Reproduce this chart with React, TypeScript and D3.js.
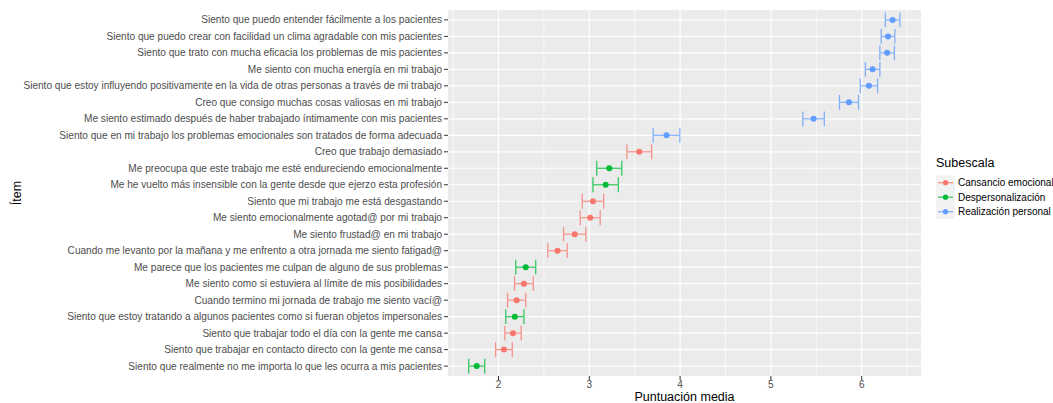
import React from "react";
import * as d3 from "d3";

const items: string[] = [
  "Siento que puedo entender fácilmente a los pacientes",
  "Siento que puedo crear con facilidad un clima agradable con mis pacientes",
  "Siento que trato con mucha eficacia los problemas de mis pacientes",
  "Me siento con mucha energía en mi trabajo",
  "Siento que estoy influyendo positivamente en la vida de otras personas a través de mi trabajo",
  "Creo que consigo muchas cosas valiosas en mi trabajo",
  "Me siento estimado después de haber trabajado íntimamente con mis pacientes",
  "Siento que en mi trabajo los problemas emocionales son tratados de forma adecuada",
  "Creo que trabajo demasiado",
  "Me preocupa que este trabajo me esté endureciendo emocionalmente",
  "Me he vuelto más insensible con la gente desde que ejerzo esta profesión",
  "Siento que mi trabajo me está desgastando",
  "Me siento emocionalmente agotad@ por mi trabajo",
  "Me siento frustad@ en mi trabajo",
  "Cuando me levanto por la mañana y me enfrento a otra jornada me siento fatigad@",
  "Me parece que los pacientes me culpan de alguno de sus problemas",
  "Me siento como si estuviera al límite de mis posibilidades",
  "Cuando termino mi jornada de trabajo me siento vací@",
  "Siento que estoy tratando a algunos pacientes como si fueran objetos impersonales",
  "Siento que trabajar todo el día con la gente me cansa",
  "Siento que trabajar en contacto directo con la gente me cansa",
  "Siento que realmente no me importa lo que les ocurra a mis pacientes",
];

const subscale: string[] = [
  "R", "R", "R", "R", "R", "R", "R", "R",
  "C", "D", "D", "C", "C", "C", "C", "D", "C", "C", "D", "C", "C", "D",
];

const means: number[] = [
  6.34, 6.29, 6.28, 6.12, 6.08, 5.86, 5.47, 3.85,
  3.55, 3.22, 3.18, 3.04, 3.01, 2.84, 2.65, 2.30, 2.28, 2.20, 2.18, 2.16, 2.06, 1.76,
];

const errors: number[] = [
  0.08, 0.075, 0.08, 0.08, 0.095, 0.105, 0.118, 0.147,
  0.136, 0.138, 0.14, 0.118, 0.11, 0.123, 0.107, 0.11, 0.103, 0.1, 0.1, 0.09, 0.092, 0.088,
];

const xTicks: number[] = [2, 3, 4, 5, 6];
const xMinor: number[] = [1.5, 2.5, 3.5, 4.5, 5.5, 6.5];

const legendKeys: string[] = ["C", "D", "R"];
const legendLabels: string[] = ["Cansancio emocional", "Despersonalización", "Realización personal"];
const colorRange: string[] = ["#F8766D", "#00BA38", "#619CFF"];

const FONT = "'Liberation Sans', Arial, Helvetica, sans-serif";

export default function App() {
  const W = 1053, H = 403;
  const left = 448, right = 921, top = 10, bottom = 376;

  const x = d3.scaleLinear().domain([1.444, 6.653]).range([left, right]);
  const y = d3.scalePoint<string>().domain(items).range([top + 9.9, bottom - 9.9]);
  const step = y.step();
  const color = d3.scaleOrdinal<string, string>().domain(legendKeys).range(colorRange);
  const capH = step * 0.45;

  return (
    <svg width={W} height={H} style={{ position: "absolute", left: 0, top: 0, fontFamily: FONT }}>
      <rect x={0} y={0} width={W} height={H} fill="#fff" />
      <rect x={left} y={top} width={right - left} height={bottom - top} fill="#EBEBEB" />
      {xMinor.map((v) => (
        <line key={"mn" + v} x1={x(v)} x2={x(v)} y1={top} y2={bottom} stroke="#fff" strokeWidth={0.6} />
      ))}
      {xTicks.map((v) => (
        <line key={"mj" + v} x1={x(v)} x2={x(v)} y1={top} y2={bottom} stroke="#fff" strokeWidth={1.2} />
      ))}
      {items.map((it) => (
        <line key={"hg" + it} x1={left} x2={right} y1={y(it)} y2={y(it)} stroke="#fff" strokeWidth={1.2} />
      ))}
      {items.map((it, i) => {
        const c = color(subscale[i]);
        const cy = y(it) as number;
        const x0 = x(means[i] - errors[i]);
        const x1 = x(means[i] + errors[i]);
        return (
          <g key={"pt" + i}>
            <g stroke={c} strokeWidth={1.3} opacity={0.75}>
              <line x1={x0} x2={x1} y1={cy} y2={cy} />
              <line x1={x0} x2={x0} y1={cy - capH} y2={cy + capH} />
              <line x1={x1} x2={x1} y1={cy - capH} y2={cy + capH} />
            </g>
            <circle cx={x(means[i])} cy={cy} r={3} fill={c} />
          </g>
        );
      })}
      {items.map((it, i) => (
        <g key={"yl" + i}>
          <line x1={left - 4} x2={left} y1={y(it)} y2={y(it)} stroke="#333" strokeWidth={1} />
          <text x={left - 6} y={y(it)} dy="0.35em" textAnchor="end" fontSize={10.1} fill="#4D4D4D">
            {it}
          </text>
        </g>
      ))}
      {xTicks.map((v) => (
        <g key={"xl" + v}>
          <line x1={x(v)} x2={x(v)} y1={bottom} y2={bottom + 4} stroke="#333" strokeWidth={1} />
          <text x={x(v)} y={bottom + 12} textAnchor="middle" fontSize={10.1} fill="#4D4D4D">
            {d3.format("d")(v)}
          </text>
        </g>
      ))}
      <text x={(left + right) / 2} y={401} textAnchor="middle" fontSize={12.5} fill="#000">
        Puntuación media
      </text>
      <text transform={`translate(20.5,${(top + bottom) / 2}) rotate(-90)`} textAnchor="middle" fontSize={12.5} fill="#000">
        Ítem
      </text>
      <text x={936} y={167} fontSize={12.5} fill="#000">Subescala</text>
      {legendKeys.map((k, i) => {
        const cy = 182.7 + i * 14.5;
        return (
          <g key={"lg" + k}>
            <rect x={936} y={cy - 7.25} width={19} height={14.5} fill="#F2F2F2" />
            <line x1={938} x2={953} y1={cy} y2={cy} stroke={color(k)} strokeWidth={1.3} opacity={0.75} />
            <circle cx={945.5} cy={cy} r={2.6} fill={color(k)} />
            <text x={958} y={cy} dy="0.35em" fontSize={10} fill="#000">{legendLabels[i]}</text>
          </g>
        );
      })}
    </svg>
  );
}
